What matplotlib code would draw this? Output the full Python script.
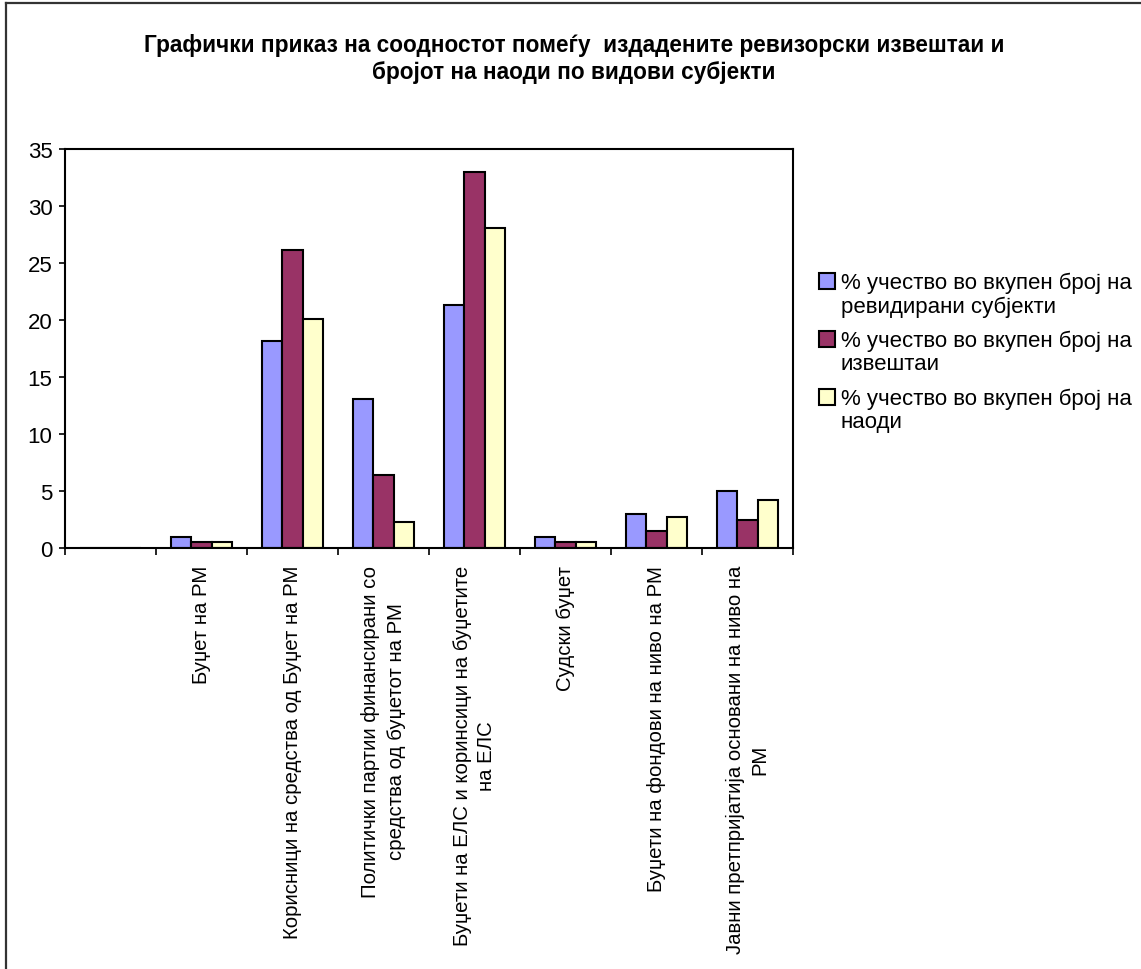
import numpy as np
import matplotlib
matplotlib.use('Agg')
import matplotlib.pyplot as plt
from matplotlib.lines import Line2D
from matplotlib.patches import Rectangle
from matplotlib.legend_handler import HandlerPatch

plt.rcParams['font.family'] = ['Liberation Sans', 'DejaVu Sans']

# categories (first one is empty in the source chart)
categories = [
    '',
    'Буџет на РМ',
    'Корисници на средства од Буџет на РМ',
    'Политички партии финансирани со\nсредства од буџетот на РМ',
    'Буџети на ЕЛС и коринсици на буџетите\nна ЕЛС',
    'Судски буџет',
    'Буџети на фондови на ниво на РМ',
    'Јавни претпријатија основани на ниво на\nРМ',
]
series_names = [
    '% учество во вкупен број на\nревидирани субјекти',
    '% учество во вкупен број на\nизвештаи',
    '% учество во вкупен број на\nнаоди',
]
pct_subjects = [0, 1.0, 18.2, 13.1, 21.3, 1.0, 3.0, 5.0]
pct_reports = [0, 0.5, 26.1, 6.4, 33.0, 0.5, 1.5, 2.5]
pct_findings = [0, 0.5, 20.1, 2.3, 28.1, 0.5, 2.7, 4.2]
colors = ['#9999FF', '#993366', '#FFFFCC']

title = ('Графички приказ на соодностот помеѓу  издадените ревизорски извештаи и\n'
         'бројот на наоди по видови субјекти')


def top_line_square(legend, orig_handle, xdescent, ydescent, width, height, fontsize):
    # put the legend square next to the first text line, like Excel does
    return Rectangle((-xdescent, -ydescent + 9.5), width, height)


fig = plt.figure(figsize=(11.41, 9.70), dpi=100)
ax = fig.add_axes([65 / 1141, 1 - 549 / 970, (793 - 65) / 1141, (549 - 150) / 970])

x = np.arange(len(categories))
w = 0.222
handles = []
for i, vals in enumerate([pct_subjects, pct_reports, pct_findings]):
    b = ax.bar(x + (i - 1) * w, vals, width=w, color=colors[i],
               edgecolor='black', linewidth=1.5, label=series_names[i])
    handles.append(b.patches[1])

ax.set_xlim(-0.5, len(categories) - 0.5)
ax.set_ylim(0, 35)
ax.set_yticks(np.arange(0, 36, 5))
ax.set_xticks(np.arange(len(categories) + 1) - 0.5)
ax.set_xticklabels([])
ax.set_xticks(x, minor=True)
ax.set_xticklabels(categories, minor=True, rotation=90, ha='center', va='top',
                   multialignment='center', fontsize=14.7, linespacing=1.4)
ax.tick_params(axis='x', which='minor', length=0, pad=12)
ax.tick_params(axis='x', which='major', length=5, width=1.2, direction='out')
ax.tick_params(axis='y', length=4, width=1.2, labelsize=16, pad=5)
for s in ax.spines.values():
    s.set_linewidth(1.5)

fig.text(0.503, 1 - 59 / 970, title, ha='center', va='center', fontsize=16.3,
         fontweight='bold', linespacing=1.22)

leg = fig.legend(handles=handles, labels=series_names, loc='upper left',
                 bbox_to_anchor=(819 / 1141, 1 - 273 / 970), frameon=False,
                 borderpad=0, borderaxespad=0,
                 fontsize=16, handlelength=0.72, handleheight=0.72,
                 handletextpad=0.27, labelspacing=0.6,
                 handler_map={Rectangle: HandlerPatch(patch_func=top_line_square)})
for t in leg.get_texts():
    t.set_linespacing(1.12)

# outer chart border (left and top visible)
fig.add_artist(Line2D([6 / 1141, 6 / 1141], [0, 1 - 4 / 970], color='#333333', lw=1.6))
fig.add_artist(Line2D([6 / 1141, 1], [1 - 4 / 970, 1 - 4 / 970], color='#333333', lw=1.6))

fig.savefig('out.png', dpi=100)
